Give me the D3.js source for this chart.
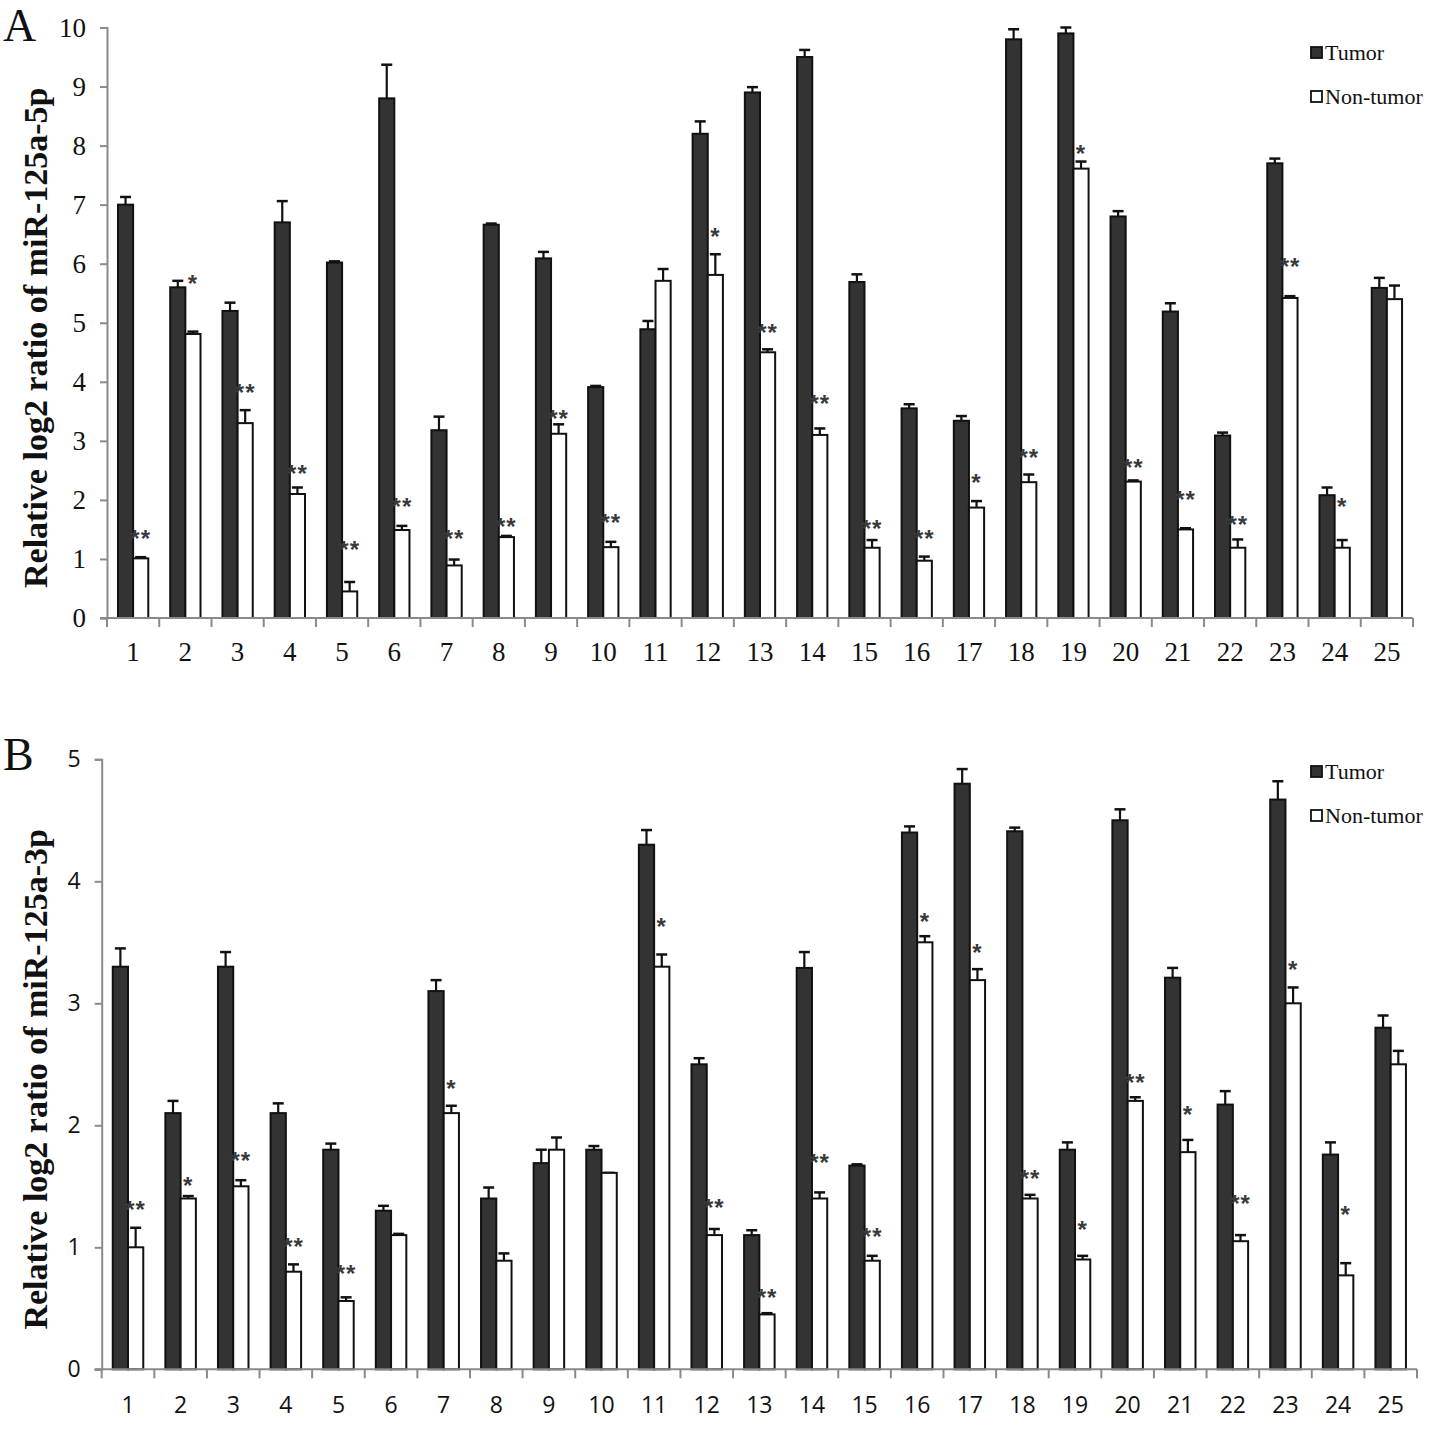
<!DOCTYPE html>
<html>
<head>
<meta charset="utf-8">
<script src="https://cdn.jsdelivr.net/npm/d3@7"></script>
<style>
  body { margin: 0; background: #fff; }
  #container { width: 1441px; height: 1456px; }
</style>
</head>
<body>
<div id="container"></div>
<script>
var categories = ["1","2","3","4","5","6","7","8","9","10","11","12","13","14","15","16","17","18","19","20","21","22","23","24","25"];
var seriesNames = ["Tumor", "Non-tumor"];

// panel A: miR-125a-5p
var tumorA = [7.0,5.6,5.2,6.7,6.02,8.8,3.18,6.66,6.09,3.91,4.89,8.2,8.9,9.5,5.69,3.55,3.34,9.8,9.9,6.8,5.19,3.09,7.7,2.08,5.59];
var tumorErrA = [0.13,0.11,0.14,0.36,0.02,0.57,0.23,0.02,0.11,0.02,0.14,0.21,0.09,0.12,0.13,0.07,0.08,0.17,0.1,0.09,0.14,0.05,0.08,0.13,0.17];
var nonA = [1.01,4.81,3.3,2.1,0.45,1.49,0.89,1.37,3.12,1.2,5.71,5.81,4.5,3.1,1.19,0.97,1.87,2.3,7.61,2.31,1.5,1.19,5.42,1.19,5.4];
var nonErrA = [0.02,0.04,0.22,0.11,0.16,0.07,0.1,0.02,0.16,0.09,0.2,0.35,0.05,0.11,0.13,0.07,0.11,0.13,0.12,0.02,0.02,0.14,0.03,0.13,0.23];
var sigA = ["**","*","**","**","**","**","**","**","**","**","","*","**","**","**","**","*","**","*","**","**","**","**","*",""];
var sigAtA = [1.45,5.77,3.92,2.55,1.27,2.0,1.45,1.66,3.48,1.73,null,6.57,4.95,3.74,1.62,1.46,2.4,2.82,7.98,2.66,2.11,1.69,6.06,2.0,null];
var ticksA = [0,1,2,3,4,5,6,7,8,9,10];

// panel B: miR-125a-3p
var tumorB = [3.3,2.1,3.3,2.1,1.8,1.3,3.1,1.4,1.69,1.8,4.3,2.5,1.1,3.29,1.67,4.4,4.8,4.41,1.8,4.5,3.21,2.17,4.67,1.76,2.8];
var tumorErrB = [0.15,0.1,0.12,0.08,0.05,0.04,0.09,0.09,0.11,0.03,0.12,0.05,0.04,0.13,0.01,0.05,0.12,0.03,0.06,0.09,0.08,0.11,0.15,0.1,0.1];
var nonB = [1.0,1.4,1.5,0.8,0.56,1.1,2.1,0.89,1.8,1.61,3.3,1.1,0.45,1.4,0.89,3.5,3.19,1.4,0.9,2.2,1.78,1.05,3.0,0.77,2.5];
var nonErrB = [0.16,0.02,0.05,0.06,0.03,0.01,0.06,0.06,0.1,0.0,0.1,0.05,0.01,0.05,0.04,0.05,0.09,0.03,0.03,0.03,0.1,0.05,0.13,0.1,0.11];
var sigB = ["**","*","**","**","**","","*","","","","*","**","**","**","**","*","*","**","*","**","*","**","*","*",""];
var sigAtB = [1.36,1.56,1.76,1.06,0.84,null,2.35,null,null,null,3.68,1.38,0.64,1.75,1.14,3.72,3.47,1.62,1.2,2.4,2.14,1.41,3.33,1.32,null];
var ticksB = [0,1,2,3,4,5];

var svg = d3.select("#container").append("svg")
    .attr("width", 1441)
    .attr("height", 1456);

var SERIF = "'Liberation Serif', 'Times New Roman', serif";
var SANS = "'Open Sans', 'Noto Sans', sans-serif";

renderPanel({
    letter: "A", letterY: 41,
    title: "Relative log2 ratio of miR-125a-5p",
    tumor: tumorA, tumorErr: tumorErrA, non: nonA, nonErr: nonErrA,
    sig: sigA, sigAt: sigAtA, ticks: ticksA, max: 10,
    left: 107, right: 1413, top: 27.5, bottom: 618,
    tickFont: SERIF, yTickSize: 27, xTickSize: 27, xLabelY: 661,
    legendY: 53
});

renderPanel({
    letter: "B", letterY: 770,
    title: "Relative log2 ratio of miR-125a-3p",
    tumor: tumorB, tumorErr: tumorErrB, non: nonB, nonErr: nonErrB,
    sig: sigB, sigAt: sigAtB, ticks: ticksB, max: 5,
    left: 101.7, right: 1417, top: 759.3, bottom: 1369.3,
    tickFont: SANS, yTickSize: 23, xTickSize: 23, xLabelY: 1413,
    legendY: 772
});

function renderPanel(o) {
    var g = svg.append("g");

    var x = d3.scaleBand().domain(categories).range([o.left, o.right]);
    var y = d3.scaleLinear().domain([0, o.max]).range([o.bottom, o.top]);
    var bw = x.bandwidth();
    var barW = bw * 0.29;
    var off = (bw - 2 * barW) / 2;

    // bars
    var series = [
        { vals: o.tumor, errs: o.tumorErr, fill: "#333", dx: off },
        { vals: o.non, errs: o.nonErr, fill: "#fff", dx: off + barW }
    ];

    series.forEach(function (s) {
        var data = categories.map(function (c, i) { return { c: c, v: s.vals[i], e: s.errs[i] }; });

        g.selectAll(null).data(data).enter().append("line")
            .attr("x1", d => x(d.c) + s.dx + barW / 2)
            .attr("x2", d => x(d.c) + s.dx + barW / 2)
            .attr("y1", d => y(d.v))
            .attr("y2", d => y(d.v + d.e))
            .attr("stroke", "#111")
            .attr("stroke-width", 2.2);

        g.selectAll(null).data(data).enter().append("line")
            .attr("x1", d => x(d.c) + s.dx + barW / 2 - 5.5)
            .attr("x2", d => x(d.c) + s.dx + barW / 2 + 5.5)
            .attr("y1", d => y(d.v + d.e))
            .attr("y2", d => y(d.v + d.e))
            .attr("stroke", "#111")
            .attr("stroke-width", 2.5);

        g.selectAll(null).data(data).enter().append("rect")
            .attr("x", d => x(d.c) + s.dx)
            .attr("y", d => y(d.v))
            .attr("width", barW)
            .attr("height", d => y(0) - y(d.v))
            .attr("fill", s.fill)
            .attr("stroke", "#111")
            .attr("stroke-width", 2);
    });

    // significance marks
    var sigData = categories.map((c, i) => ({ c: c, t: o.sig[i], v: o.sigAt[i] })).filter(d => d.t);
    g.selectAll(null).data(sigData).enter().append("text")
        .attr("x", d => x(d.c) + off + barW * 1.5)
        .attr("y", d => y(d.v))
        .attr("dy", "0.62em")
        .attr("text-anchor", "middle")
        .style("font-family", "'Liberation Sans', Arial, sans-serif")
        .style("font-weight", "bold")
        .style("font-size", "24px")
        .style("letter-spacing", "1px")
        .style("fill", "#3a3a3a")
        .text(d => d.t);

    // axes
    var yAxis = g.append("g")
        .attr("transform", `translate(${o.left},0)`)
        .call(d3.axisLeft(y).tickValues(o.ticks).tickSize(7).tickPadding(14).tickFormat(d3.format("d")));
    yAxis.select(".domain").attr("stroke", "#8a8a8a").attr("stroke-width", 2);
    yAxis.selectAll(".tick line").attr("stroke", "#8a8a8a").attr("stroke-width", 2);
    yAxis.selectAll(".tick text")
        .style("font-family", o.tickFont)
        .style("font-size", o.yTickSize + "px")
        .attr("fill", "#111");

    var xAxis = g.append("g")
        .attr("transform", `translate(0,${o.bottom})`);
    xAxis.append("line")
        .attr("x1", o.left - 7).attr("x2", o.right)
        .attr("stroke", "#8a8a8a").attr("stroke-width", 2);
    xAxis.selectAll(null).data(categories.concat(["end"])).enter().append("line")
        .attr("x1", (d, i) => i < categories.length ? x(d) : o.right)
        .attr("x2", (d, i) => i < categories.length ? x(d) : o.right)
        .attr("y1", 0).attr("y2", 9)
        .attr("stroke", "#8a8a8a").attr("stroke-width", 2);
    g.selectAll(null).data(categories).enter().append("text")
        .attr("x", d => x(d) + bw / 2)
        .attr("y", o.xLabelY)
        .attr("text-anchor", "middle")
        .style("font-family", o.tickFont)
        .style("font-size", o.xTickSize + "px")
        .attr("fill", "#111")
        .text(d => d);

    // axis title
    g.append("text")
        .attr("transform", `translate(47,${(o.top + o.bottom) / 2 + 15}) rotate(-90)`)
        .attr("text-anchor", "middle")
        .style("font-family", SERIF)
        .style("font-weight", "bold")
        .style("font-size", "34px")
        .attr("fill", "#111")
        .text(o.title);

    // panel letter
    g.append("text")
        .attr("x", 3)
        .attr("y", o.letterY)
        .style("font-family", SERIF)
        .style("font-size", "46px")
        .attr("fill", "#111")
        .text(o.letter);

    // legend
    var legend = g.append("g").attr("transform", `translate(1310,${o.legendY})`);
    seriesNames.forEach(function (name, i) {
        legend.append("rect")
            .attr("x", 1).attr("y", i * 44 - 6)
            .attr("width", 11).attr("height", 11)
            .attr("fill", i === 0 ? "#333" : "#fff")
            .attr("stroke", "#111").attr("stroke-width", 1.8);
        legend.append("text")
            .attr("x", 15).attr("y", i * 44 + 7)
            .style("font-family", SERIF)
            .style("font-size", "22px")
            .attr("fill", "#111")
            .text(name);
    });
}
</script>
</body>
</html>
